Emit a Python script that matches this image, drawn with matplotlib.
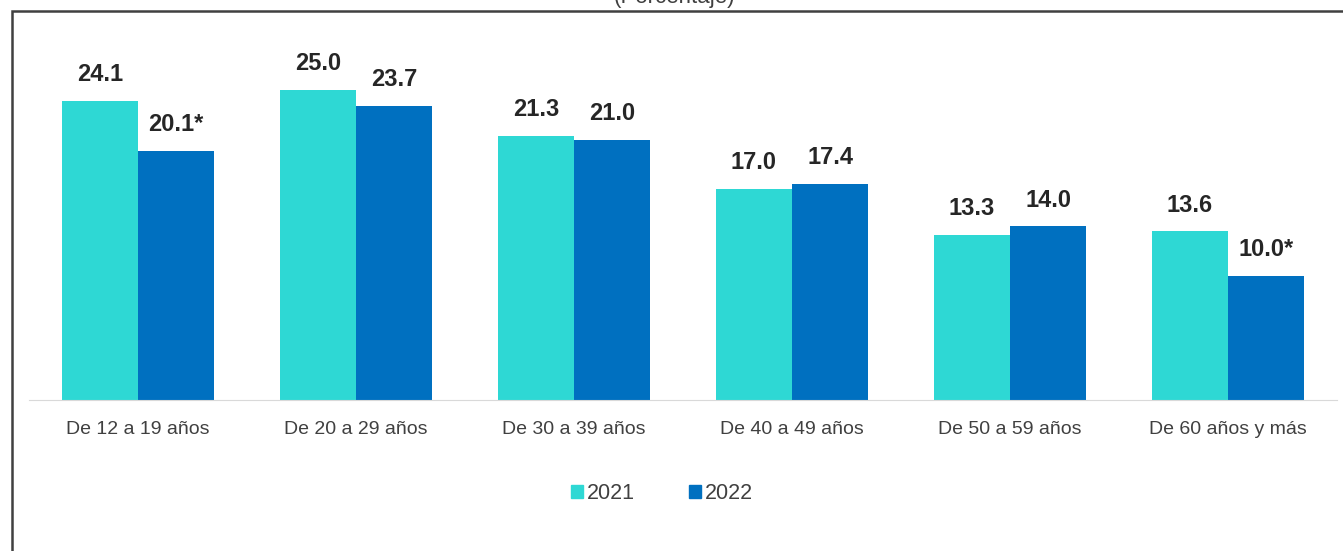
import matplotlib.pyplot as plt
import numpy as np
from matplotlib.patches import Rectangle, Patch

# Data
categories = ["De 12 a 19 años", "De 20 a 29 años", "De 30 a 39 años",
              "De 40 a 49 años", "De 50 a 59 años", "De 60 años y más"]
values_2021 = [24.1, 25.0, 21.3, 17.0, 13.3, 13.6]
values_2022 = [20.1, 23.7, 21.0, 17.4, 14.0, 10.0]
labels_2021 = ["24.1", "25.0", "21.3", "17.0", "13.3", "13.6"]
labels_2022 = ["20.1*", "23.7", "21.0", "17.4", "14.0", "10.0*"]

color_2021 = "#2ED8D4"
color_2022 = "#0070C0"

fig = plt.figure(figsize=(13.43, 5.51), dpi=100)
ax = fig.add_axes([0.0216, 0.274, 0.974, 0.63])

x = np.arange(len(categories))
w = 0.35
b1 = ax.bar(x - w / 2, values_2021, w, color=color_2021, label="2021")
b2 = ax.bar(x + w / 2, values_2022, w, color=color_2022, label="2022")

for bars, labs in ((b1, labels_2021), (b2, labels_2022)):
    for bar, lab in zip(bars, labs):
        ax.text(bar.get_x() + bar.get_width() / 2, bar.get_height() + 1.2, lab,
                ha="center", va="bottom", fontsize=17, fontweight="bold",
                color="#262626", family="Liberation Sans")

ax.set_xlim(-0.5, len(categories) - 0.5)
ax.set_ylim(0, 28)
ax.set_xticks(x)
ax.set_xticklabels(categories, fontsize=14, color="#404040", family="Liberation Sans")
ax.tick_params(axis="x", length=0, pad=15)
ax.set_yticks([])
for side in ["top", "right", "left"]:
    ax.spines[side].set_visible(False)
ax.spines["bottom"].set_color("#D9D9D9")

handles = [Patch(color=color_2021, label="2021"), Patch(color=color_2022, label="2022")]
fig.legend(handles=handles, loc="center", bbox_to_anchor=(0.493, 0.105), ncol=2,
           frameon=False, handlelength=0.55, handleheight=0.55, handletextpad=0.2,
           columnspacing=2.5, prop={"family": "Liberation Sans", "size": 15.5})
for t in fig.legends[0].get_texts():
    t.set_color("#404040")

# outer frame (only left and top visible, rest cut off)
fig.patches.append(Rectangle((0.009, -0.1), 1.1, 1.08, transform=fig.transFigure,
                             fill=False, edgecolor="#404040", linewidth=1.8))

fig.text(0.502, 0.9946, "(Porcentaje)", ha="center", va="baseline", fontsize=16,
         color="#404040", family="Liberation Sans")

fig.savefig("out.png", dpi=100)
